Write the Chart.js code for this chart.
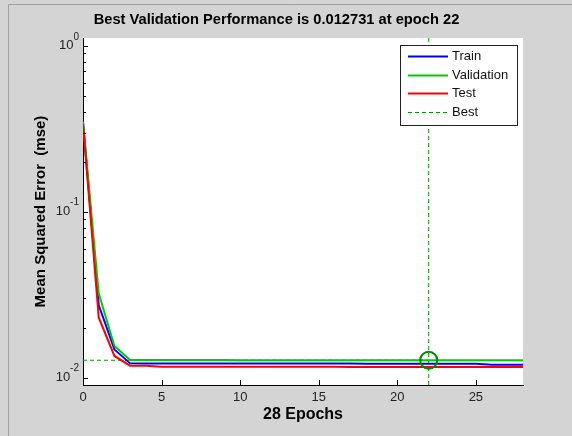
<!DOCTYPE html>
<html>
<head>
<meta charset="utf-8">
<script src="https://cdn.jsdelivr.net/npm/chart.js@4.4.1/dist/chart.umd.min.js"></script>
<style>
  html, body { margin: 0; padding: 0; background: #d4d4d4; }
  canvas { display: block; }
</style>
</head>
<body>
<canvas id="perf" width="572" height="436"></canvas>
<script>
// values
const epochs = [0, 1, 2, 3, 4, 5, 6, 7, 8, 9, 10, 11, 12, 13, 14, 15, 16, 17, 18, 19, 20, 21, 22, 23, 24, 25, 26, 27, 28];
const trainMse = [0.3445, 0.0274, 0.01479, 0.01219, 0.01218, 0.01218, 0.01217, 0.01217, 0.01217, 0.01216,
  0.01216, 0.01216, 0.01216, 0.01215, 0.01215, 0.01215, 0.01215, 0.01215, 0.01214, 0.01214,
  0.01214, 0.01214, 0.01214, 0.01213, 0.01213, 0.01213, 0.01198, 0.01197, 0.01197];
const validationMse = [0.3485, 0.03225, 0.01552, 0.01279, 0.01278, 0.01277, 0.01277, 0.01276, 0.01276, 0.01276,
  0.01275, 0.01275, 0.01275, 0.01275, 0.01274, 0.01274, 0.01274, 0.01274, 0.01274, 0.012735,
  0.012733, 0.012732, 0.012731, 0.012732, 0.012733, 0.012734, 0.012735, 0.012736, 0.012737];
const testMse = [0.3406, 0.02306, 0.01351, 0.0118, 0.01178, 0.01164, 0.01164, 0.01163, 0.01163, 0.01163,
  0.01163, 0.01162, 0.01162, 0.01162, 0.01162, 0.01162, 0.01162, 0.01161, 0.01161, 0.01161,
  0.01161, 0.01161, 0.01161, 0.01161, 0.01161, 0.0116, 0.0116, 0.0116, 0.0116];
const bestEpoch = 22;
const bestPerf = 0.012731;
const xTickValues = [0, 5, 10, 15, 20, 25];
const yMajorTicks = [0.01, 0.1, 1];
const yExponents = ['-2', '-1', '0'];
const yMinorSteps = [2, 3, 4, 5, 6, 7, 8, 9];
const xMax = 28;
const yMin = 0.00903;
const yMax = 1.113;

const FONT = 'Arial, "Liberation Sans", sans-serif';
const BLUE = '#0000ff', GREEN = '#00cc00', RED = '#ff0000', BEST = '#009a00', RING = '#008a00';
Chart.defaults.font.family = FONT;

const frame = {
  id: 'frame',
  beforeDraw(chart) {
    const ctx = chart.ctx, a = chart.chartArea;
    ctx.save();
    ctx.fillStyle = '#d4d4d4';
    ctx.fillRect(0, 0, chart.width, chart.height);
    ctx.strokeStyle = '#a0a0a0';
    ctx.lineWidth = 1;
    ctx.beginPath();
    ctx.moveTo(8.5, chart.height); ctx.lineTo(8.5, 4.5); ctx.lineTo(chart.width, 4.5);
    ctx.stroke();
    ctx.fillStyle = '#ffffff';
    ctx.fillRect(a.left, a.top, a.right - a.left, a.bottom - a.top);
    ctx.restore();
  }
};

// MATLAB style ticks pointing into the axes + 10^n labels
const axisDecor = {
  id: 'axisDecor',
  afterDraw(chart) {
    const ctx = chart.ctx, a = chart.chartArea;
    const xs = chart.scales.x, ys = chart.scales.y;
    ctx.save();
    ctx.strokeStyle = '#000';
    ctx.lineWidth = 1;
    ctx.beginPath();
    xs.ticks.forEach(t => {
      const px = Math.round(xs.getPixelForValue(t.value)) + 0.5;
      ctx.moveTo(px, a.bottom); ctx.lineTo(px, a.bottom - 5);
    });
    ys.ticks.forEach(t => {
      const py = Math.round(ys.getPixelForValue(t.value)) + 0.5;
      ctx.moveTo(a.left, py); ctx.lineTo(a.left + (t.major ? 5 : 3), py);
    });
    ctx.stroke();
    ctx.fillStyle = '#222';
    ctx.textBaseline = 'middle';
    yMajorTicks.forEach((v, i) => {
      const py = ys.getPixelForValue(v);
      ctx.font = '10px ' + FONT;
      ctx.textAlign = 'right';
      const ex = a.left - 4;
      ctx.fillText(yExponents[i], ex, py - 9);
      const ew = ctx.measureText(yExponents[i]).width;
      ctx.font = '13px ' + FONT;
      ctx.fillText('10', ex - ew, py);
    });
    ctx.restore();
  }
};

const legendBox = {
  id: 'legendBox',
  afterDraw(chart) {
    const ctx = chart.ctx;
    const items = chart.data.datasets.filter(d => d.inLegend);
    const x = 400, y = 45, w = 117, h = 80, row = 18.6;
    ctx.save();
    ctx.fillStyle = '#fff';
    ctx.fillRect(x, y, w, h);
    ctx.strokeStyle = '#222';
    ctx.lineWidth = 1;
    ctx.strokeRect(x + 0.5, y + 0.5, w, h);
    ctx.font = '13px ' + FONT;
    ctx.textBaseline = 'middle';
    ctx.textAlign = 'left';
    items.forEach((d, i) => {
      const cy = Math.round(y + 11 + i * row) + 0.5;
      ctx.strokeStyle = d.borderColor;
      ctx.lineWidth = d.borderDash ? 1 : 2;
      ctx.setLineDash(d.borderDash || []);
      ctx.beginPath();
      ctx.moveTo(408, cy); ctx.lineTo(448, cy);
      ctx.stroke();
      ctx.fillStyle = '#111';
      ctx.fillText(d.label, 452, cy);
    });
    ctx.restore();
  }
};

const pts = arr => epochs.map((e, i) => ({ x: e, y: arr[i] }));

new Chart(document.getElementById('perf'), {
  type: 'line',
  data: {
    datasets: [
      { label: 'Train', data: pts(trainMse), borderColor: BLUE, borderWidth: 2, pointRadius: 0, order: 2, inLegend: true },
      { label: 'Validation', data: pts(validationMse), borderColor: GREEN, borderWidth: 2, pointRadius: 0, order: 1, inLegend: true },
      { label: 'Test', data: pts(testMse), borderColor: RED, borderWidth: 2, pointRadius: 0, order: 0, inLegend: true },
      { label: 'Best', data: [{ x: 0, y: bestPerf }, { x: bestEpoch, y: bestPerf }], borderColor: BEST, borderWidth: 1,
        borderDash: [4, 3], pointRadius: 0, order: 4, inLegend: true },
      { label: 'Best epoch', data: [{ x: bestEpoch, y: yMax }, { x: bestEpoch, y: yMin }], borderColor: BEST, borderWidth: 1,
        borderDash: [4, 3], pointRadius: 0, order: 4 },
      { label: 'Best point', data: [{ x: bestEpoch, y: bestPerf }], showLine: false, pointRadius: 8.5, pointHoverRadius: 8.5,
        pointBorderWidth: 2, pointBorderColor: RING, pointBackgroundColor: 'rgba(0,0,0,0)', order: -1 }
    ]
  },
  options: {
    responsive: false,
    animation: false,
    events: [],
    layout: { padding: { left: 30, right: 49, top: 0, bottom: 0 } },
    elements: { line: { tension: 0 } },
    plugins: {
      legend: { display: false },
      tooltip: { enabled: false },
      title: {
        display: true,
        text: 'Best Validation Performance is 0.012731 at epoch 22',
        color: '#000',
        font: { size: 14.7, weight: 'bold' },
        padding: { top: 11.6, bottom: 8.8 }
      }
    },
    scales: {
      x: {
        type: 'linear',
        min: 0,
        max: xMax,
        afterBuildTicks: s => { s.ticks = xTickValues.map(v => ({ value: v })); },
        afterFit: s => { s.height = 51; },
        ticks: { color: '#222', font: { size: 13 }, padding: 5 },
        grid: { display: false, drawTicks: false },
        border: { display: true, color: '#000', width: 1 },
        title: { display: true, text: '28 Epochs', color: '#000', font: { size: 16, weight: 'bold' }, padding: { top: 0, bottom: 12 } }
      },
      y: {
        type: 'logarithmic',
        min: yMin,
        max: yMax,
        afterBuildTicks: s => {
          const list = [];
          yMajorTicks.forEach(m => {
            list.push({ value: m, major: true });
            if (m < 1) yMinorSteps.forEach(k => list.push({ value: m * k, major: false }));
          });
          s.ticks = list;
        },
        afterFit: s => { s.width = 53; },
        ticks: { display: false },
        grid: { display: false, drawTicks: false },
        border: { display: true, color: '#000', width: 1 },
        title: { display: true, text: 'Mean Squared Error  (mse)', color: '#000', font: { size: 15, weight: 'bold' }, padding: { top: 1.5, bottom: 0 } }
      }
    }
  },
  plugins: [frame, axisDecor, legendBox]
});
</script>
</body>
</html>
